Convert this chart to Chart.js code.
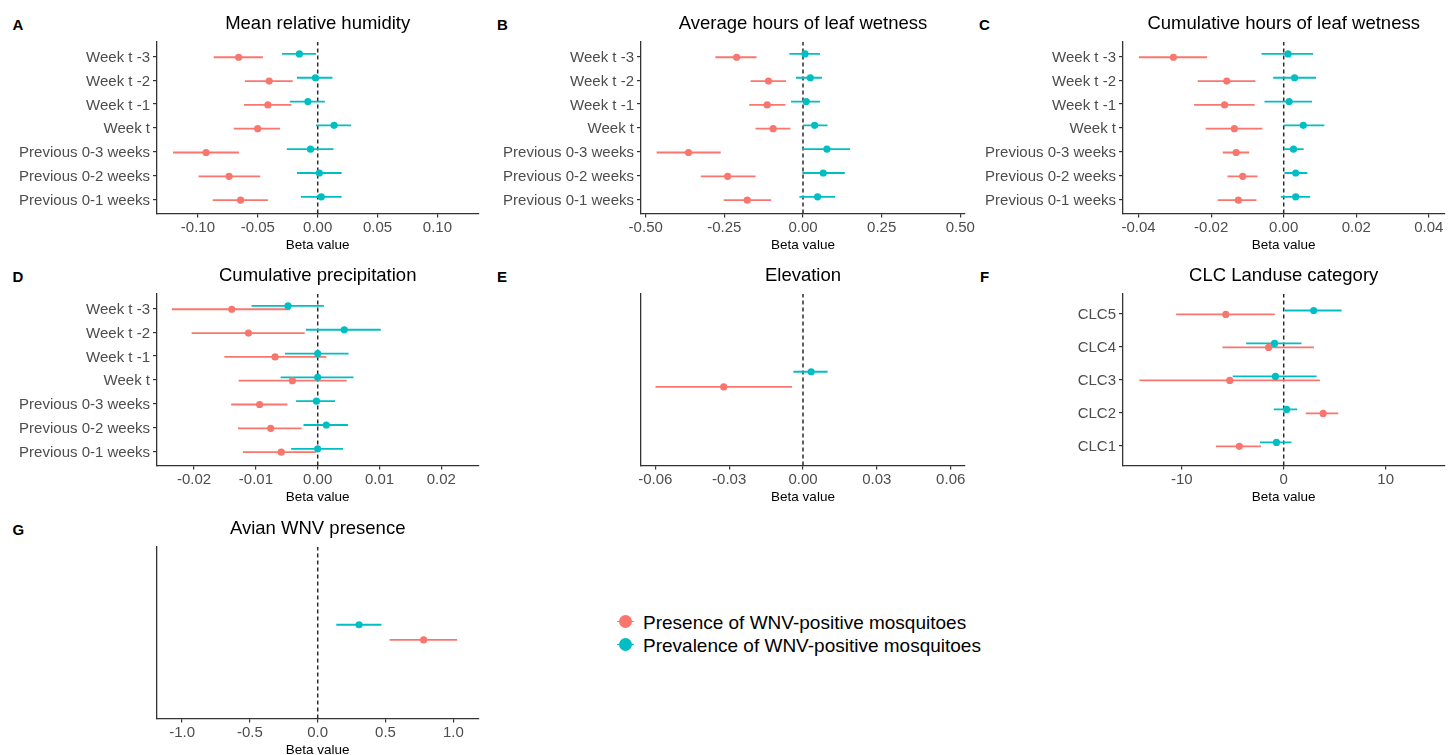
<!DOCTYPE html>
<html>
<head>
<meta charset="utf-8">
<script src="https://cdn.jsdelivr.net/npm/chart.js@4.4.1/dist/chart.umd.min.js"></script>
<style>
html,body{margin:0;padding:0;background:#fff;width:1448px;height:755px;overflow:hidden;font-family:"Liberation Sans",Arial,Helvetica,sans-serif;}
canvas{position:absolute;}
.lbl{position:absolute;font-weight:bold;font-size:15px;line-height:15px;color:#000;}
.lgtext{position:absolute;font-size:19px;line-height:19px;color:#000;white-space:nowrap;}
.lgdot{position:absolute;width:13px;height:13px;border-radius:50%;}
.lgline{position:absolute;height:1.6px;width:17px;}
</style>
</head>
<body>
<div class="lbl" style="left:12.5px;top:16.5px">A</div>
<div class="lbl" style="left:497px;top:16.5px">B</div>
<div class="lbl" style="left:979px;top:16.5px">C</div>
<div class="lbl" style="left:12.5px;top:269px">D</div>
<div class="lbl" style="left:497px;top:269px">E</div>
<div class="lbl" style="left:980px;top:269px">F</div>
<div class="lbl" style="left:12.5px;top:521.5px">G</div>
<div id="legend"></div>
<script>
// ---------------- DATA ----------------
const weekCats = ["Week t -3","Week t -2","Week t -1","Week t","Previous 0-3 weeks","Previous 0-2 weeks","Previous 0-1 weeks"];
const clcCats = ["CLC5","CLC4","CLC3","CLC2","CLC1"];
const singleCat = [""];
const seriesNames = ["Presence of WNV-positive mosquitoes","Prevalence of WNV-positive mosquitoes"];
const xAxisTitle = "Beta value";

// A: Mean relative humidity
const humPresEst = [-0.066, -0.0405, -0.0416, -0.0501, -0.0932, -0.074, -0.0644];
const humPresLo  = [-0.0868, -0.0608, -0.0616, -0.0701, -0.1208, -0.0995, -0.0877];
const humPresHi  = [-0.0458, -0.0208, -0.0219, -0.0315, -0.0658, -0.048, -0.0416];
const humPrevEst = [-0.0153, -0.0019, -0.0082, 0.0137, -0.006, 0.0014, 0.003];
const humPrevLo  = [-0.0299, -0.0173, -0.0233, -0.0014, -0.0258, -0.0173, -0.014];
const humPrevHi  = [-0.0014, 0.0123, 0.006, 0.0279, 0.0132, 0.02, 0.02];
const humTicks   = [-0.10, -0.05, 0, 0.05, 0.10];

// B: Average hours of leaf wetness
const avgLwPresEst = [-0.211, -0.1097, -0.1139, -0.0949, -0.3639, -0.2395, -0.1772];
const avgLwPresLo  = [-0.2785, -0.1667, -0.1709, -0.1508, -0.4652, -0.3249, -0.2521];
const avgLwPresHi  = [-0.1477, -0.0538, -0.0559, -0.0401, -0.2616, -0.1508, -0.1013];
const avgLwPrevEst = [0.0063, 0.0232, 0.0105, 0.0369, 0.076, 0.0643, 0.0464];
const avgLwPrevLo  = [-0.0432, -0.0222, -0.038, 0.0, -0.002, -0.002, -0.0116];
const avgLwPrevHi  = [0.0538, 0.0601, 0.0538, 0.0781, 0.1498, 0.1329, 0.1023];
const avgLwTicks   = [-0.50, -0.25, 0, 0.25, 0.50];

// C: Cumulative hours of leaf wetness
const cumLwPresEst = [-0.0304, -0.0157, -0.0163, -0.0136, -0.0131, -0.0113, -0.0125];
const cumLwPresLo  = [-0.0399, -0.0237, -0.0247, -0.0215, -0.0168, -0.0155, -0.0182];
const cumLwPresHi  = [-0.0211, -0.0078, -0.008, -0.0059, -0.0095, -0.0072, -0.0075];
const cumLwPrevEst = [0.0012, 0.003, 0.0015, 0.0054, 0.0027, 0.0033, 0.0033];
const cumLwPrevLo  = [-0.0061, -0.0029, -0.0053, 0.0, 0.0, 0.0002, -0.0008];
const cumLwPrevHi  = [0.0081, 0.0089, 0.0078, 0.0112, 0.0055, 0.0065, 0.0073];
const cumLwTicks   = [-0.04, -0.02, 0, 0.02, 0.04];

// D: Cumulative precipitation
const precPresEst = [-0.0139, -0.0112, -0.0069, -0.0041, -0.0094, -0.0076, -0.0059];
const precPresLo  = [-0.0236, -0.0204, -0.0151, -0.0128, -0.014, -0.0129, -0.0121];
const precPresHi  = [-0.0045, -0.0021, 0.0014, 0.0047, -0.0049, -0.0026, -0.0003];
const precPrevEst = [-0.0048, 0.0043, 0.0, 0.0, -0.0002, 0.0014, 0.0];
const precPrevLo  = [-0.0107, -0.0019, -0.0053, -0.006, -0.0035, -0.0023, -0.0043];
const precPrevHi  = [0.001, 0.0102, 0.005, 0.0058, 0.0028, 0.0049, 0.0041];
const precTicks   = [-0.02, -0.01, 0, 0.01, 0.02];

// E: Elevation
const elevPresEst = [-0.0322];
const elevPresLo  = [-0.0599];
const elevPresHi  = [-0.0045];
const elevPrevEst = [0.0033];
const elevPrevLo  = [-0.0039];
const elevPrevHi  = [0.01];
const elevTicks   = [-0.06, -0.03, 0, 0.03, 0.06];

// F: CLC Landuse category
const clcPresEst = [-5.68, -1.48, -5.29, 3.87, -4.35];
const clcPresLo  = [-10.55, -6.0, -14.16, 2.16, -6.65];
const clcPresHi  = [-0.87, 2.97, 3.55, 5.35, -2.23];
const clcPrevEst = [2.94, -0.9, -0.81, 0.29, -0.71];
const clcPrevLo  = [0.1, -3.68, -5.0, -0.97, -2.32];
const clcPrevHi  = [5.68, 1.74, 3.23, 1.32, 0.77];
const clcTicks   = [-10, 0, 10];

// G: Avian WNV presence
const avianPresEst = [0.781];
const avianPresLo  = [0.53];
const avianPresHi  = [1.028];
const avianPrevEst = [0.305];
const avianPrevLo  = [0.137];
const avianPrevHi  = [0.47];
const avianTicks   = [-1.0, -0.5, 0, 0.5, 1.0];

// ---------------- STYLE / LAYOUT ----------------
const FONT = '"Liberation Sans", Arial, Helvetica, sans-serif';
Chart.defaults.font.family = FONT;
const RED = '#F8766D', TEAL = '#00BFC4';
const AXIS = '#333333', TICKTXT = '#4D4D4D';
const HX = 39.5;      // x-axis block height
const CANVAS_H = 253;

function buildPanel(p) {
  const cv = document.createElement('canvas');
  cv.width = p.w; cv.height = CANVAS_H;
  cv.style.left = p.left + 'px'; cv.style.top = p.top + 'px';
  cv.style.width = p.w + 'px'; cv.style.height = CANVAS_H + 'px';
  document.body.appendChild(cv);

  const n = p.cats.length;
  const ymin = 0.4, ymax = n + 0.6;
  const yOf = (i, dy) => n - i + dy;
  const series = [
    {est: p.prevEst, lo: p.prevLo, hi: p.prevHi, color: TEAL, dy: p.dodge[1]},
    {est: p.presEst, lo: p.presLo, hi: p.presHi, color: RED,  dy: p.dodge[0]}
  ];
  const datasets = [];
  // points (drawn on top)
  series.forEach(s => {
    datasets.push({
      data: s.est.map((v, i) => ({x: v, y: yOf(i, s.dy)})),
      backgroundColor: s.color, borderWidth: 0, pointRadius: 3.6, pointHoverRadius: 3.6, showLine: false
    });
  });
  // error bars
  series.forEach(s => {
    s.est.forEach((v, i) => {
      datasets.push({
        data: [{x: s.lo[i], y: yOf(i, s.dy)}, {x: s.hi[i], y: yOf(i, s.dy)}],
        borderColor: s.color, borderWidth: 1.8, pointRadius: 0, pointHoverRadius: 0, showLine: true
      });
    });
  });
  // zero reference line (bottom)
  datasets.push({
    data: [{x: 0, y: ymin}, {x: 0, y: ymax}],
    borderColor: '#2a2a2a', borderWidth: 1.5, borderDash: [4, 3], pointRadius: 0, pointHoverRadius: 0, showLine: true
  });

  new Chart(cv, {
    type: 'scatter',
    data: {datasets},
    options: {
      responsive: false, animation: false, devicePixelRatio: 1,
      layout: {padding: {left: 0, right: p.padR, top: 0, bottom: 0}},
      plugins: {
        legend: {display: false}, tooltip: {enabled: false},
        title: {display: true, text: p.title, color: '#000', fullSize: false,
                font: {size: 18.5, weight: 'normal', family: FONT},
                padding: {top: 13, bottom: 6.8}}
      },
      scales: {
        x: {
          type: 'linear', min: p.xmin, max: p.xmax,
          afterBuildTicks: s => { s.ticks = p.ticks.map(v => ({value: v})); },
          afterFit: s => { s.height = HX; s.paddingLeft = 0; s.paddingRight = 0; },
          ticks: {callback: v => Number(v).toFixed(p.dec), color: TICKTXT, font: {size: 15},
                  padding: 1.5, maxRotation: 0, autoSkip: false},
          grid: {display: true, drawOnChartArea: false, drawTicks: true, tickLength: 4, color: AXIS, lineWidth: 1.2},
          border: {display: true, color: AXIS, width: 1.3},
          title: {display: true, text: xAxisTitle, color: '#000', font: {size: 13.5}, padding: {top: 0, bottom: 0}}
        },
        y: {
          type: 'linear', min: ymin, max: ymax,
          afterBuildTicks: s => { s.ticks = p.cats.map((c, i) => ({value: n - i})); },
          afterFit: s => { s.width = p.yw; s.paddingTop = 0; s.paddingBottom = 0; },
          ticks: {display: p.showY, callback: v => p.cats[n - Math.round(v)], color: TICKTXT,
                  font: {size: 15}, padding: 3, autoSkip: false, labelOffset: 1.5},
          grid: {display: true, drawOnChartArea: false, drawTicks: p.showY, tickLength: 4, color: AXIS, lineWidth: 1.2},
          border: {display: true, color: AXIS, width: 1.3}
        }
      }
    }
  });
}

const dodge7 = [-0.04, 0.1], dodge5 = [-0.02, 0.1], dodge1 = [-0.05, 0.056];
const col = [
  {left: 0,   w: 482, yw: 157, padR: 0},
  {left: 480, w: 495, yw: 161, padR: 10},
  {left: 960, w: 488, yw: 163, padR: 0}
];
const rowTop = [0, 252, 505];

buildPanel(Object.assign({}, col[0], {top: rowTop[0], title: "Mean relative humidity", cats: weekCats, showY: true,
  presEst: humPresEst, presLo: humPresLo, presHi: humPresHi, prevEst: humPrevEst, prevLo: humPrevLo, prevHi: humPrevHi,
  ticks: humTicks, xmin: -0.1342, xmax: 0.1342, dec: 2, dodge: dodge7}));
buildPanel(Object.assign({}, col[1], {top: rowTop[0], title: "Average hours of leaf wetness", cats: weekCats, showY: true,
  presEst: avgLwPresEst, presLo: avgLwPresLo, presHi: avgLwPresHi, prevEst: avgLwPrevEst, prevLo: avgLwPrevLo, prevHi: avgLwPrevHi,
  ticks: avgLwTicks, xmin: -0.515, xmax: 0.515, dec: 2, dodge: dodge7}));
buildPanel(Object.assign({}, col[2], {top: rowTop[0], title: "Cumulative hours of leaf wetness", cats: weekCats, showY: true,
  presEst: cumLwPresEst, presLo: cumLwPresLo, presHi: cumLwPresHi, prevEst: cumLwPrevEst, prevLo: cumLwPrevLo, prevHi: cumLwPrevHi,
  ticks: cumLwTicks, xmin: -0.0443, xmax: 0.0443, dec: 2, dodge: dodge7}));
buildPanel(Object.assign({}, col[0], {top: rowTop[1], title: "Cumulative precipitation", cats: weekCats, showY: true,
  presEst: precPresEst, presLo: precPresLo, presHi: precPresHi, prevEst: precPrevEst, prevLo: precPrevLo, prevHi: precPrevHi,
  ticks: precTicks, xmin: -0.026, xmax: 0.026, dec: 2, dodge: dodge7}));
buildPanel(Object.assign({}, col[1], {top: rowTop[1], title: "Elevation", cats: singleCat, showY: false,
  presEst: elevPresEst, presLo: elevPresLo, presHi: elevPresHi, prevEst: elevPrevEst, prevLo: elevPrevLo, prevHi: elevPrevHi,
  ticks: elevTicks, xmin: -0.0658, xmax: 0.0658, dec: 2, dodge: dodge1}));
buildPanel(Object.assign({}, col[2], {top: rowTop[1], title: "CLC Landuse category", cats: clcCats, showY: true,
  presEst: clcPresEst, presLo: clcPresLo, presHi: clcPresHi, prevEst: clcPrevEst, prevLo: clcPrevLo, prevHi: clcPrevHi,
  ticks: clcTicks, xmin: -15.76, xmax: 15.76, dec: 0, dodge: dodge5}));
buildPanel(Object.assign({}, col[0], {top: rowTop[2], title: "Avian WNV presence", cats: singleCat, showY: false,
  presEst: avianPresEst, presLo: avianPresLo, presHi: avianPresHi, prevEst: avianPrevEst, prevLo: avianPrevLo, prevHi: avianPrevHi,
  ticks: avianTicks, xmin: -1.185, xmax: 1.185, dec: 1, dodge: dodge1}));

// Legend
const lg = document.getElementById('legend');
const lgColors = [RED, TEAL];
const lgTop = [612.9, 635.6];
const dotCy = [621.7, 644.3];
seriesNames.forEach((name, i) => {
  const line = document.createElement('div');
  line.className = 'lgline'; line.style.background = lgColors[i];
  line.style.left = '616.5px'; line.style.top = (dotCy[i] - 0.8) + 'px';
  const dot = document.createElement('div');
  dot.className = 'lgdot'; dot.style.background = lgColors[i];
  dot.style.left = (625 - 6.5) + 'px'; dot.style.top = (dotCy[i] - 6.5) + 'px';
  const t = document.createElement('div');
  t.className = 'lgtext'; t.textContent = name;
  t.style.left = '643px'; t.style.top = lgTop[i] + 'px';
  lg.appendChild(line); lg.appendChild(dot); lg.appendChild(t);
});
</script>
</body>
</html>
